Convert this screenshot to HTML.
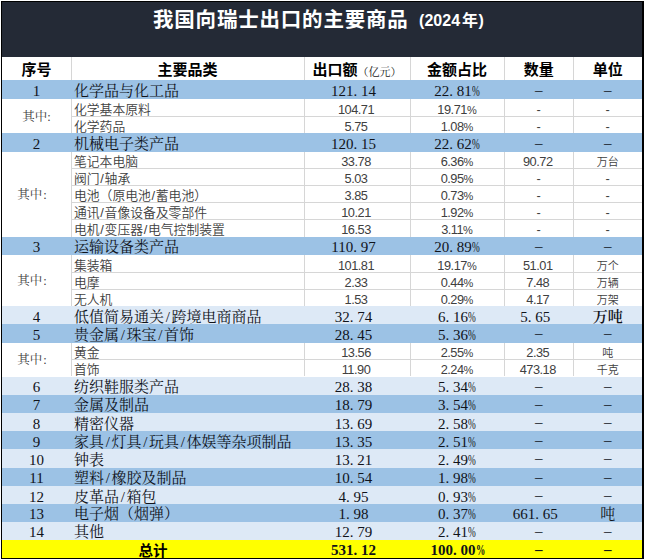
<!DOCTYPE html>
<html lang="zh-CN"><head><meta charset="utf-8"><title>我国向瑞士出口的主要商品（2024年）</title>
<style>
*{margin:0;padding:0;box-sizing:border-box}
html,body{width:645px;height:559px;background:#fff;overflow:hidden}
body{position:relative}
#frame{position:absolute;left:1px;top:1px;width:643px;height:558px;border:1px solid #000;border-right-width:2px;border-bottom-width:1px;background:#fff}
#title{position:absolute;left:2px;top:2px;width:640px;height:55px;background:#242a36}
#title .t{position:absolute;left:151px;top:3.5px;font:700 20.5px/28px "Liberation Sans","Noto Sans CJK SC",sans-serif;color:#fff;white-space:nowrap;letter-spacing:0.8px}
#title .t small{font-size:16px;margin-left:10.5px;letter-spacing:0;position:relative;top:-1px}
#title .yr{font-size:16px;margin:0 0.5px 0 2px}
.hdr{position:absolute;left:2px;top:57px;width:640px;height:23px;background:#fff}
.row{position:absolute;left:2px;width:640px}
.bl{background:#9cc2e5}
.lt{background:#dde9f6}
.yl{background:#ffff00}
.sub{position:absolute;left:2px;width:640px;background:#fff}
.hl{position:absolute;left:71px;width:571px;height:1px;background:#d6d6d6;margin-top:-0.5px}
.vl{position:absolute;width:1px;background:#d6d6d6}
.c{position:absolute;display:flex;align-items:center;justify-content:center;white-space:nowrap}
.c.l{justify-content:flex-start}
.h{font:700 15px/1 "Liberation Sans","Noto Sans CJK SC",sans-serif;color:#000;padding-top:2px}
.h small{font:400 11px/1 "Liberation Serif","Noto Serif CJK SC",serif;color:#222;position:relative;top:2.5px}
.m{font:400 15px/1 "Liberation Serif","Noto Serif CJK SC",serif;color:#10131a;padding-top:4px}
.m i{font-style:normal;display:inline-block;width:0.5em}
.m i.p{width:0.52em;transform:scaleX(.62);transform-origin:0 0}
.n3{padding-right:7px}
.s{font:350 12.8px/1 "Liberation Sans","Noto Sans CJK SC",sans-serif;color:#404040;padding-top:5px}
.s.num{letter-spacing:-0.5px}
.s u{text-decoration:none;font-size:11px;letter-spacing:0}
.s.su{font-size:11px}
.s.pr{padding-right:2px}
.ub{font-weight:600}
.m.dash{padding-top:1px}
.qz{font:400 12.5px/1 "Liberation Serif","Noto Serif CJK SC",serif;color:#3c3c3c;padding-top:2px}
.qzl{padding-right:9px}
.qzl .co{margin-left:1px}
.sl{display:inline-block;width:.5em;text-align:center;font-weight:400}
.ss{display:inline-block;width:5px;text-align:center;font-weight:400}
.tot{font:700 14.5px/1 "Liberation Sans","Noto Sans CJK SC",sans-serif;color:#000;padding-top:4px}
.tb{font-weight:700}
</style></head><body>
<div id="frame"></div>
<div id="title"><div class="t">我国向瑞士出口的主要商品<small>(2024<span class="yr">年</span>)</small></div></div>
<div class="hdr"></div>
<div class="vl" style="left:70.5px;top:57px;height:23px"></div>
<div class="vl" style="left:303.5px;top:57px;height:23px"></div>
<div class="vl" style="left:409.5px;top:57px;height:23px"></div>
<div class="vl" style="left:503.5px;top:57px;height:23px"></div>
<div class="vl" style="left:573px;top:57px;height:23px"></div>
<div class="c h" style="left:2px;width:69px;top:57px;height:23px">序号</div>
<div class="c h" style="left:71px;width:233px;top:57px;height:23px">主要品类</div>
<div class="c h" style="left:304px;width:106px;top:57px;height:23px">出口额<small>（亿元）</small></div>
<div class="c h" style="left:410px;width:94px;top:57px;height:23px">金额占比</div>
<div class="c h" style="left:504px;width:69.5px;top:57px;height:23px">数量</div>
<div class="c h" style="left:573.5px;width:68.5px;top:57px;height:23px">单位</div>
<div class="row bl" style="top:80px;height:19px"></div>
<div class="c m" style="left:2px;width:69px;top:80px;height:19px">1</div>
<div class="c m l" style="left:74px;width:230px;top:80px;height:19px">化学品与化工品</div>
<div class="c m n3" style="left:304px;width:106px;top:80px;height:19px">121<i>.</i>14</div>
<div class="c m" style="left:410px;width:94px;top:80px;height:19px">22<i>.</i>81<i class="p">%</i></div>
<div class="c m dash" style="left:504px;width:69.5px;top:80px;height:19px">–</div>
<div class="c m dash" style="left:573.5px;width:68.5px;top:80px;height:19px">–</div>
<div class="sub" style="top:99px;height:34px"></div>
<div class="c qz" style="left:2px;width:69px;top:99px;height:34px">其中<span class="co">:</span></div>
<div class="c s l" style="left:74px;width:230px;top:99px;height:17px">化学基本原料</div>
<div class="c s num pr" style="left:304px;width:106px;top:99px;height:17px">104.71</div>
<div class="c s num" style="left:410px;width:94px;top:99px;height:17px">19.71<u>%</u></div>
<div class="c s sd" style="left:504px;width:69.5px;top:99px;height:17px">-</div>
<div class="c s sd" style="left:573.5px;width:68.5px;top:99px;height:17px">-</div>
<div class="hl" style="top:116px"></div>
<div class="c s l" style="left:74px;width:230px;top:116px;height:17px">化学药品</div>
<div class="c s num pr" style="left:304px;width:106px;top:116px;height:17px">5.75</div>
<div class="c s num" style="left:410px;width:94px;top:116px;height:17px">1.08<u>%</u></div>
<div class="c s sd" style="left:504px;width:69.5px;top:116px;height:17px">-</div>
<div class="c s sd" style="left:573.5px;width:68.5px;top:116px;height:17px">-</div>
<div class="vl" style="left:70.5px;top:99px;height:34px"></div>
<div class="vl" style="left:303.5px;top:99px;height:34px"></div>
<div class="vl" style="left:409.5px;top:99px;height:34px"></div>
<div class="vl" style="left:503.5px;top:99px;height:34px"></div>
<div class="vl" style="left:573.0px;top:99px;height:34px"></div>
<div class="row bl" style="top:133px;height:19px"></div>
<div class="c m" style="left:2px;width:69px;top:133px;height:19px">2</div>
<div class="c m l" style="left:74px;width:230px;top:133px;height:19px">机械电子类产品</div>
<div class="c m n3" style="left:304px;width:106px;top:133px;height:19px">120<i>.</i>15</div>
<div class="c m" style="left:410px;width:94px;top:133px;height:19px">22<i>.</i>62<i class="p">%</i></div>
<div class="c m dash" style="left:504px;width:69.5px;top:133px;height:19px">–</div>
<div class="c m dash" style="left:573.5px;width:68.5px;top:133px;height:19px">–</div>
<div class="sub" style="top:152px;height:84.5px"></div>
<div class="c qz qzl" style="left:2px;width:69px;top:152px;height:84.5px">其中<span class="co">:</span></div>
<div class="c s l" style="left:74px;width:230px;top:152px;height:16.5px">笔记本电脑</div>
<div class="c s num pr" style="left:304px;width:106px;top:152px;height:16.5px">33.78</div>
<div class="c s num" style="left:410px;width:94px;top:152px;height:16.5px">6.36<u>%</u></div>
<div class="c s num pr" style="left:504px;width:69.5px;top:152px;height:16.5px">90.72</div>
<div class="c s su" style="left:573.5px;width:68.5px;top:152px;height:16.5px">万台</div>
<div class="hl" style="top:168.5px"></div>
<div class="c s l" style="left:74px;width:230px;top:168.5px;height:17.0px">阀门<b class="ss">/</b>轴承</div>
<div class="c s num pr" style="left:304px;width:106px;top:168.5px;height:17.0px">5.03</div>
<div class="c s num" style="left:410px;width:94px;top:168.5px;height:17.0px">0.95<u>%</u></div>
<div class="c s sd" style="left:504px;width:69.5px;top:168.5px;height:17.0px">-</div>
<div class="c s sd" style="left:573.5px;width:68.5px;top:168.5px;height:17.0px">-</div>
<div class="hl" style="top:185.5px"></div>
<div class="c s l" style="left:74px;width:230px;top:185.5px;height:16.8px">电池（原电池<b class="ss">/</b>蓄电池）</div>
<div class="c s num pr" style="left:304px;width:106px;top:185.5px;height:16.8px">3.85</div>
<div class="c s num" style="left:410px;width:94px;top:185.5px;height:16.8px">0.73<u>%</u></div>
<div class="c s sd" style="left:504px;width:69.5px;top:185.5px;height:16.8px">-</div>
<div class="c s sd" style="left:573.5px;width:68.5px;top:185.5px;height:16.8px">-</div>
<div class="hl" style="top:202.3px"></div>
<div class="c s l" style="left:74px;width:230px;top:202.3px;height:16.7px">通讯<b class="ss">/</b>音像设备及零部件</div>
<div class="c s num pr" style="left:304px;width:106px;top:202.3px;height:16.7px">10.21</div>
<div class="c s num" style="left:410px;width:94px;top:202.3px;height:16.7px">1.92<u>%</u></div>
<div class="c s sd" style="left:504px;width:69.5px;top:202.3px;height:16.7px">-</div>
<div class="c s sd" style="left:573.5px;width:68.5px;top:202.3px;height:16.7px">-</div>
<div class="hl" style="top:219px"></div>
<div class="c s l" style="left:74px;width:230px;top:219px;height:17.5px">电机<b class="ss">/</b>变压器<b class="ss">/</b>电气控制装置</div>
<div class="c s num pr" style="left:304px;width:106px;top:219px;height:17.5px">16.53</div>
<div class="c s num" style="left:410px;width:94px;top:219px;height:17.5px">3.11<u>%</u></div>
<div class="c s sd" style="left:504px;width:69.5px;top:219px;height:17.5px">-</div>
<div class="c s sd" style="left:573.5px;width:68.5px;top:219px;height:17.5px">-</div>
<div class="vl" style="left:70.5px;top:152px;height:84.5px"></div>
<div class="vl" style="left:303.5px;top:152px;height:84.5px"></div>
<div class="vl" style="left:409.5px;top:152px;height:84.5px"></div>
<div class="vl" style="left:503.5px;top:152px;height:84.5px"></div>
<div class="vl" style="left:573.0px;top:152px;height:84.5px"></div>
<div class="row bl" style="top:236.5px;height:18.5px"></div>
<div class="c m" style="left:2px;width:69px;top:236.5px;height:18.5px">3</div>
<div class="c m l" style="left:74px;width:230px;top:236.5px;height:18.5px">运输设备类产品</div>
<div class="c m n3" style="left:304px;width:106px;top:236.5px;height:18.5px">110<i>.</i>97</div>
<div class="c m" style="left:410px;width:94px;top:236.5px;height:18.5px">20<i>.</i>89<i class="p">%</i></div>
<div class="c m dash" style="left:504px;width:69.5px;top:236.5px;height:18.5px">–</div>
<div class="c m dash" style="left:573.5px;width:68.5px;top:236.5px;height:18.5px">–</div>
<div class="sub" style="top:255px;height:51px"></div>
<div class="c qz qzl" style="left:2px;width:69px;top:255px;height:51px">其中<span class="co">:</span></div>
<div class="c s l" style="left:74px;width:230px;top:255px;height:17.3px">集装箱</div>
<div class="c s num pr" style="left:304px;width:106px;top:255px;height:17.3px">101.81</div>
<div class="c s num" style="left:410px;width:94px;top:255px;height:17.3px">19.17<u>%</u></div>
<div class="c s num pr" style="left:504px;width:69.5px;top:255px;height:17.3px">51.01</div>
<div class="c s su" style="left:573.5px;width:68.5px;top:255px;height:17.3px">万个</div>
<div class="hl" style="top:272.3px"></div>
<div class="c s l" style="left:74px;width:230px;top:272.3px;height:16.9px">电摩</div>
<div class="c s num pr" style="left:304px;width:106px;top:272.3px;height:16.9px">2.33</div>
<div class="c s num" style="left:410px;width:94px;top:272.3px;height:16.9px">0.44<u>%</u></div>
<div class="c s num pr" style="left:504px;width:69.5px;top:272.3px;height:16.9px">7.48</div>
<div class="c s su" style="left:573.5px;width:68.5px;top:272.3px;height:16.9px">万辆</div>
<div class="hl" style="top:289.2px"></div>
<div class="c s l" style="left:74px;width:230px;top:289.2px;height:16.8px">无人机</div>
<div class="c s num pr" style="left:304px;width:106px;top:289.2px;height:16.8px">1.53</div>
<div class="c s num" style="left:410px;width:94px;top:289.2px;height:16.8px">0.29<u>%</u></div>
<div class="c s num pr" style="left:504px;width:69.5px;top:289.2px;height:16.8px">4.17</div>
<div class="c s su" style="left:573.5px;width:68.5px;top:289.2px;height:16.8px">万架</div>
<div class="vl" style="left:70.5px;top:255px;height:51px"></div>
<div class="vl" style="left:303.5px;top:255px;height:51px"></div>
<div class="vl" style="left:409.5px;top:255px;height:51px"></div>
<div class="vl" style="left:503.5px;top:255px;height:51px"></div>
<div class="vl" style="left:573.0px;top:255px;height:51px"></div>
<div class="row lt" style="top:306px;height:18.3px"></div>
<div class="c m" style="left:2px;width:69px;top:306px;height:18.3px">4</div>
<div class="c m l" style="left:74px;width:230px;top:306px;height:18.3px">低值简易通关<b class="sl">/</b>跨境电商商品</div>
<div class="c m n3" style="left:304px;width:106px;top:306px;height:18.3px">32<i>.</i>74</div>
<div class="c m" style="left:410px;width:94px;top:306px;height:18.3px">6<i>.</i>16<i class="p">%</i></div>
<div class="c m n3" style="left:504px;width:69.5px;top:306px;height:18.3px">5<i>.</i>65</div>
<div class="c m ub" style="left:573.5px;width:68.5px;top:306px;height:18.3px">万吨</div>
<div class="row bl" style="top:324.3px;height:18.4px"></div>
<div class="c m" style="left:2px;width:69px;top:324.3px;height:18.4px">5</div>
<div class="c m l" style="left:74px;width:230px;top:324.3px;height:18.4px">贵金属<b class="sl">/</b>珠宝<b class="sl">/</b>首饰</div>
<div class="c m n3" style="left:304px;width:106px;top:324.3px;height:18.4px">28<i>.</i>45</div>
<div class="c m" style="left:410px;width:94px;top:324.3px;height:18.4px">5<i>.</i>36<i class="p">%</i></div>
<div class="c m dash" style="left:504px;width:69.5px;top:324.3px;height:18.4px">–</div>
<div class="c m dash" style="left:573.5px;width:68.5px;top:324.3px;height:18.4px">–</div>
<div class="sub" style="top:342.7px;height:33.8px"></div>
<div class="c qz qzl" style="left:2px;width:69px;top:342.7px;height:33.8px">其中<span class="co">:</span></div>
<div class="c s l" style="left:74px;width:230px;top:342.7px;height:16.9px">黄金</div>
<div class="c s num pr" style="left:304px;width:106px;top:342.7px;height:16.9px">13.56</div>
<div class="c s num" style="left:410px;width:94px;top:342.7px;height:16.9px">2.55<u>%</u></div>
<div class="c s num pr" style="left:504px;width:69.5px;top:342.7px;height:16.9px">2.35</div>
<div class="c s su" style="left:573.5px;width:68.5px;top:342.7px;height:16.9px">吨</div>
<div class="hl" style="top:359.6px"></div>
<div class="c s l" style="left:74px;width:230px;top:359.6px;height:16.9px">首饰</div>
<div class="c s num pr" style="left:304px;width:106px;top:359.6px;height:16.9px">11.90</div>
<div class="c s num" style="left:410px;width:94px;top:359.6px;height:16.9px">2.24<u>%</u></div>
<div class="c s num pr" style="left:504px;width:69.5px;top:359.6px;height:16.9px">473.18</div>
<div class="c s su" style="left:573.5px;width:68.5px;top:359.6px;height:16.9px">千克</div>
<div class="vl" style="left:70.5px;top:342.7px;height:33.8px"></div>
<div class="vl" style="left:303.5px;top:342.7px;height:33.8px"></div>
<div class="vl" style="left:409.5px;top:342.7px;height:33.8px"></div>
<div class="vl" style="left:503.5px;top:342.7px;height:33.8px"></div>
<div class="vl" style="left:573.0px;top:342.7px;height:33.8px"></div>
<div class="row lt" style="top:376.5px;height:18.3px"></div>
<div class="c m" style="left:2px;width:69px;top:376.5px;height:18.3px">6</div>
<div class="c m l" style="left:74px;width:230px;top:376.5px;height:18.3px">纺织鞋服类产品</div>
<div class="c m n3" style="left:304px;width:106px;top:376.5px;height:18.3px">28<i>.</i>38</div>
<div class="c m" style="left:410px;width:94px;top:376.5px;height:18.3px">5<i>.</i>34<i class="p">%</i></div>
<div class="c m dash" style="left:504px;width:69.5px;top:376.5px;height:18.3px">–</div>
<div class="c m dash" style="left:573.5px;width:68.5px;top:376.5px;height:18.3px">–</div>
<div class="row bl" style="top:394.8px;height:18.2px"></div>
<div class="c m" style="left:2px;width:69px;top:394.8px;height:18.2px">7</div>
<div class="c m l" style="left:74px;width:230px;top:394.8px;height:18.2px">金属及制品</div>
<div class="c m n3" style="left:304px;width:106px;top:394.8px;height:18.2px">18<i>.</i>79</div>
<div class="c m" style="left:410px;width:94px;top:394.8px;height:18.2px">3<i>.</i>54<i class="p">%</i></div>
<div class="c m dash" style="left:504px;width:69.5px;top:394.8px;height:18.2px">–</div>
<div class="c m dash" style="left:573.5px;width:68.5px;top:394.8px;height:18.2px">–</div>
<div class="row lt" style="top:413px;height:18px"></div>
<div class="c m" style="left:2px;width:69px;top:413px;height:18px">8</div>
<div class="c m l" style="left:74px;width:230px;top:413px;height:18px">精密仪器</div>
<div class="c m n3" style="left:304px;width:106px;top:413px;height:18px">13<i>.</i>69</div>
<div class="c m" style="left:410px;width:94px;top:413px;height:18px">2<i>.</i>58<i class="p">%</i></div>
<div class="c m dash" style="left:504px;width:69.5px;top:413px;height:18px">–</div>
<div class="c m dash" style="left:573.5px;width:68.5px;top:413px;height:18px">–</div>
<div class="row bl" style="top:431px;height:18.3px"></div>
<div class="c m" style="left:2px;width:69px;top:431px;height:18.3px">9</div>
<div class="c m l" style="left:74px;width:230px;top:431px;height:18.3px">家具<b class="sl">/</b>灯具<b class="sl">/</b>玩具<b class="sl">/</b>体娱等杂项制品</div>
<div class="c m n3" style="left:304px;width:106px;top:431px;height:18.3px">13<i>.</i>35</div>
<div class="c m" style="left:410px;width:94px;top:431px;height:18.3px">2<i>.</i>51<i class="p">%</i></div>
<div class="c m dash" style="left:504px;width:69.5px;top:431px;height:18.3px">–</div>
<div class="c m dash" style="left:573.5px;width:68.5px;top:431px;height:18.3px">–</div>
<div class="row lt" style="top:449.3px;height:18.3px"></div>
<div class="c m" style="left:2px;width:69px;top:449.3px;height:18.3px">10</div>
<div class="c m l" style="left:74px;width:230px;top:449.3px;height:18.3px">钟表</div>
<div class="c m n3" style="left:304px;width:106px;top:449.3px;height:18.3px">13<i>.</i>21</div>
<div class="c m" style="left:410px;width:94px;top:449.3px;height:18.3px">2<i>.</i>49<i class="p">%</i></div>
<div class="c m dash" style="left:504px;width:69.5px;top:449.3px;height:18.3px">–</div>
<div class="c m dash" style="left:573.5px;width:68.5px;top:449.3px;height:18.3px">–</div>
<div class="row bl" style="top:467.6px;height:18.4px"></div>
<div class="c m" style="left:2px;width:69px;top:467.6px;height:18.4px">11</div>
<div class="c m l" style="left:74px;width:230px;top:467.6px;height:18.4px">塑料<b class="sl">/</b>橡胶及制品</div>
<div class="c m n3" style="left:304px;width:106px;top:467.6px;height:18.4px">10<i>.</i>54</div>
<div class="c m" style="left:410px;width:94px;top:467.6px;height:18.4px">1<i>.</i>98<i class="p">%</i></div>
<div class="c m dash" style="left:504px;width:69.5px;top:467.6px;height:18.4px">–</div>
<div class="c m dash" style="left:573.5px;width:68.5px;top:467.6px;height:18.4px">–</div>
<div class="row lt" style="top:486px;height:18px"></div>
<div class="c m" style="left:2px;width:69px;top:486px;height:18px">12</div>
<div class="c m l" style="left:74px;width:230px;top:486px;height:18px">皮革品<b class="sl">/</b>箱包</div>
<div class="c m n3" style="left:304px;width:106px;top:486px;height:18px">4<i>.</i>95</div>
<div class="c m" style="left:410px;width:94px;top:486px;height:18px">0<i>.</i>93<i class="p">%</i></div>
<div class="c m dash" style="left:504px;width:69.5px;top:486px;height:18px">–</div>
<div class="c m dash" style="left:573.5px;width:68.5px;top:486px;height:18px">–</div>
<div class="row bl" style="top:504px;height:17.7px"></div>
<div class="c m" style="left:2px;width:69px;top:504px;height:17.7px">13</div>
<div class="c m l" style="left:74px;width:230px;top:504px;height:17.7px">电子烟（烟弹）</div>
<div class="c m n3" style="left:304px;width:106px;top:504px;height:17.7px">1<i>.</i>98</div>
<div class="c m" style="left:410px;width:94px;top:504px;height:17.7px">0<i>.</i>37<i class="p">%</i></div>
<div class="c m n3" style="left:504px;width:69.5px;top:504px;height:17.7px">661<i>.</i>65</div>
<div class="c m" style="left:573.5px;width:68.5px;top:504px;height:17.7px">吨</div>
<div class="row lt" style="top:521.7px;height:18.3px"></div>
<div class="c m" style="left:2px;width:69px;top:521.7px;height:18.3px">14</div>
<div class="c m l" style="left:74px;width:230px;top:521.7px;height:18.3px">其他</div>
<div class="c m n3" style="left:304px;width:106px;top:521.7px;height:18.3px">12<i>.</i>79</div>
<div class="c m" style="left:410px;width:94px;top:521.7px;height:18.3px">2<i>.</i>41<i class="p">%</i></div>
<div class="c m dash" style="left:504px;width:69.5px;top:521.7px;height:18.3px">–</div>
<div class="c m dash" style="left:573.5px;width:68.5px;top:521.7px;height:18.3px">–</div>
<div class="row yl" style="top:540px;height:17.6px"></div>
<div class="c tot" style="left:2px;width:302px;top:540px;height:17.6px">总计</div>
<div class="c m tb n3" style="left:304px;width:106px;top:540px;height:17.6px">531<i>.</i>12</div>
<div class="c m tb" style="left:410px;width:94px;top:540px;height:17.6px">100<i>.</i>00<i class="p">%</i></div>
<div class="c m tb dash" style="left:504px;width:69.5px;top:540px;height:17.6px">–</div>
<div class="c m tb dash" style="left:573.5px;width:68.5px;top:540px;height:17.6px">–</div>
</body></html>
